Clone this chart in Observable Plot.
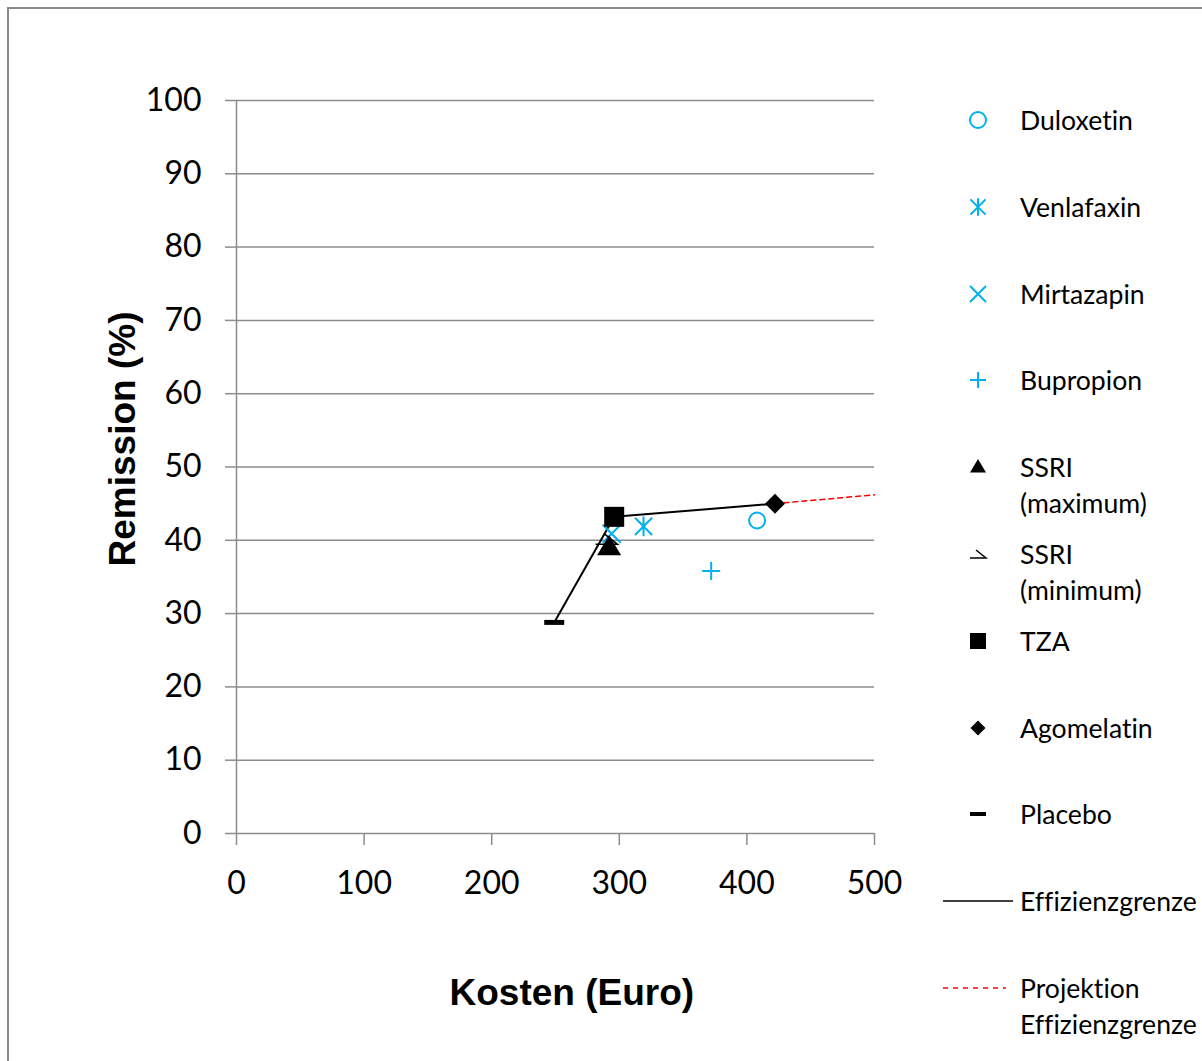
<!DOCTYPE html>
<html>
<head>
<meta charset="utf-8">
<script src="https://cdn.jsdelivr.net/npm/d3@7"></script>
<script src="https://cdn.jsdelivr.net/npm/@observablehq/plot@0.6"></script>
<style>
  html, body { margin: 0; padding: 0; background: #fff; overflow: hidden; }
  #wrap { position: relative; width: 1202px; height: 1061px; overflow: hidden; background: #fff; }
  #vline { position: absolute; left: 7px; top: 7px; width: 2px; height: 1054px; background: #8a8a8a; }
  #hline { position: absolute; left: 7px; top: 7px; width: 1195px; height: 2px; background: #8a8a8a; }
  #chart { position: absolute; left: 0; top: 0; }
  .title { position: absolute; font-family: "Liberation Sans", Arial, sans-serif; font-weight: bold;
           font-size: 37px; color: #000; white-space: nowrap; }
  .leg { position: absolute; font-family: Lato, "Open Sans", sans-serif; font-size: 26.6px; line-height: 36px; color: #000;
         white-space: nowrap; font-variant-ligatures: none; font-feature-settings: "liga" 0; }
  .icon { position: absolute; overflow: visible; }
</style>
</head>
<body>
<div id="wrap">
  <div id="vline"></div>
  <div id="hline"></div>
  <div id="chart"></div>
</div>
<script>
// ---------- data ----------
const drugs     = ["Duloxetin", "Venlafaxin", "Mirtazapin", "Bupropion", "SSRI (minimum)", "SSRI (maximum)", "TZA", "Agomelatin", "Placebo"];
const costs     = [408, 319, 294, 372, 290, 292, 296, 422, 249];
const remission = [42.7, 41.9, 40.9, 35.8, 40.2, 39.1, 43.2, 45.0, 28.8];
const frontierDrugs = ["Placebo", "TZA", "Agomelatin"];
const projectionCosts = [422, 500];
const projectionRemission = [45.0, 46.2];
const xTicks = [0, 100, 200, 300, 400, 500];
const yTicks = [0, 10, 20, 30, 40, 50, 60, 70, 80, 90, 100];
const legendLabels = ["Duloxetin", "Venlafaxin", "Mirtazapin", "Bupropion", "SSRI\n(maximum)", "SSRI\n(minimum)", "TZA", "Agomelatin", "Placebo", "Effizienzgrenze", "Projektion\nEffizienzgrenze"];
const legendKeys = ["Duloxetin", "Venlafaxin", "Mirtazapin", "Bupropion", "SSRI (maximum)", "SSRI (minimum)", "TZA", "Agomelatin", "Placebo", "frontier", "projection"];

const table = drugs.map((name, i) => ({name, cost: costs[i], remission: remission[i]}));
const frontier = frontierDrugs.map(n => table.find(d => d.name === n));
const projection = projectionCosts.map((c, i) => ({cost: c, remission: projectionRemission[i]}));

// ---------- symbols ----------
const CYAN = "#00B0F0";
const sym = fn => ({draw(ctx, size) { fn(ctx, Math.sqrt(size / Math.PI)); }});
const shapes = {
  circle: sym((c, r) => { c.moveTo(r, 0); c.arc(0, 0, r, 0, 2 * Math.PI); }),
  asterisk: sym((c, r) => { const h = r * 0.95; c.moveTo(-h, -h); c.lineTo(h, h); c.moveTo(-h, h); c.lineTo(h, -h); c.moveTo(0, -r * 1.1); c.lineTo(0, r * 1.1); }),
  times: sym((c, r) => { c.moveTo(-r, -r); c.lineTo(r, r); c.moveTo(-r, r); c.lineTo(r, -r); }),
  plus: sym((c, r) => { c.moveTo(-r, 0); c.lineTo(r, 0); c.moveTo(0, -r); c.lineTo(0, r); }),
  triangle: sym((c, r) => { c.moveTo(0, -r); c.lineTo(r, 0.7 * r); c.lineTo(-r, 0.7 * r); c.closePath(); }),
  halfTriangle: sym((c, r) => { c.moveTo(-0.25 * r, -0.5 * r); c.lineTo(r, 0.5 * r); c.lineTo(-r, 0.5 * r); }),
  square: sym((c, r) => { c.rect(-r, -r, 2 * r, 2 * r); }),
  diamond: sym((c, r) => { c.moveTo(0, -r); c.lineTo(r, 0); c.lineTo(0, r); c.lineTo(-r, 0); c.closePath(); }),
  dash: sym((c, r) => { c.rect(-r, -0.25 * r, 2 * r, 0.5 * r); })
};
const style = {
  "Duloxetin":      {symbol: shapes.circle,   r: 8,  fill: "none", stroke: CYAN, strokeWidth: 2, lr: 8},
  "Venlafaxin":     {symbol: shapes.asterisk, r: 9,  fill: "none", stroke: CYAN, strokeWidth: 2, lr: 8},
  "Mirtazapin":     {symbol: shapes.times,    r: 9,  fill: "none", stroke: CYAN, strokeWidth: 2, lr: 8},
  "Bupropion":      {symbol: shapes.plus,     r: 9,  fill: "none", stroke: CYAN, strokeWidth: 2, lr: 8},
  "SSRI (minimum)": {symbol: shapes.halfTriangle, r: 11, fill: "none", stroke: "black", strokeWidth: 1.5, lr: 8},
  "SSRI (maximum)": {symbol: shapes.triangle, r: 12, fill: "black", stroke: "none", strokeWidth: 0, lr: 8},
  "TZA":            {symbol: shapes.square,   r: 10, fill: "black", stroke: "none", strokeWidth: 0, lr: 8},
  "Agomelatin":     {symbol: shapes.diamond,  r: 10, fill: "black", stroke: "none", strokeWidth: 0, lr: 7.5},
  "Placebo":        {symbol: shapes.dash,     r: 10, fill: "black", stroke: "none", strokeWidth: 0, lr: 8}
};

const GRAY = "#8c8c8c";
const dotMarks = drugs.map(name => {
  const s = style[name];
  return Plot.dot(table.filter(d => d.name === name), {
    x: "cost", y: "remission", symbol: s.symbol, r: s.r,
    fill: s.fill, stroke: s.stroke, strokeWidth: s.strokeWidth
  });
});

const chart = Plot.plot({
  width: 940, height: 1061,
  marginLeft: 236, marginRight: 66, marginTop: 100, marginBottom: 228,
  style: {fontFamily: "Lato, 'Open Sans', sans-serif", fontSize: "32px", color: "black", background: "transparent", overflow: "visible"},
  x: {domain: [0, 500]},
  y: {domain: [0, 100]},
  marks: [
    Plot.ruleY(yTicks, {stroke: GRAY, strokeWidth: 1.5}),
    Plot.ruleX([0], {stroke: GRAY, strokeWidth: 1.5}),
    Plot.axisY({ticks: yTicks, tickSize: 11, tickPadding: 24, stroke: GRAY, strokeWidth: 1.5, fill: "black", label: null, fontSize: 32}),
    Plot.axisX({ticks: xTicks, tickSize: 12, tickPadding: 26, stroke: GRAY, strokeWidth: 1.5, fill: "black", label: null, fontSize: 32}),
    Plot.line(projection, {x: "cost", y: "remission", stroke: "#FF0000", strokeWidth: 1.5, strokeDasharray: "5,4"}),
    Plot.line(frontier, {x: "cost", y: "remission", stroke: "black", strokeWidth: 2}),
    ...dotMarks
  ]
});
document.getElementById("chart").appendChild(chart);

// ---------- axis titles ----------
const wrap = document.getElementById("wrap");
function addTitle(text, cx, cy, rotate) {
  const el = document.createElement("div");
  el.className = "title";
  el.textContent = text;
  wrap.appendChild(el);
  const w = el.offsetWidth, h = el.offsetHeight;
  el.style.left = (cx - w / 2) + "px";
  el.style.top = (cy - h / 2) + "px";
  if (rotate) el.style.transform = "rotate(-90deg)";
}
addTitle("Kosten (Euro)", 572, 993, false);
addTitle("Remission (%)", 123, 439, true);

// ---------- legend ----------
legendKeys.forEach((key, i) => {
  const cy = 120 + i * 86.8;
  const t = document.createElement("div");
  t.className = "leg";
  t.style.left = "1020px";
  t.style.top = (cy - 18) + "px";
  t.innerHTML = legendLabels[i].split("\n").join("<br>");
  wrap.appendChild(t);

  const svg = d3.create("svg").attr("class", "icon").attr("width", 80).attr("height", 30)
    .style("left", "940px").style("top", (cy - 15) + "px");
  if (key === "frontier") {
    svg.append("line").attr("x1", 3).attr("x2", 73).attr("y1", 15).attr("y2", 15).attr("stroke", "black").attr("stroke-width", 1.5);
  } else if (key === "projection") {
    svg.append("line").attr("x1", 3).attr("x2", 66).attr("y1", 15).attr("y2", 15).attr("stroke", "#FF0000").attr("stroke-width", 1.5).attr("stroke-dasharray", "5,5");
  } else {
    const s = style[key];
    const p = d3.path();
    s.symbol.draw(p, s.lr * s.lr * Math.PI);
    svg.append("path").attr("d", p.toString()).attr("transform", "translate(38,15)")
      .attr("fill", s.fill).attr("stroke", s.stroke).attr("stroke-width", s.strokeWidth || null);
  }
  wrap.appendChild(svg.node());
});
</script>
</body>
</html>
